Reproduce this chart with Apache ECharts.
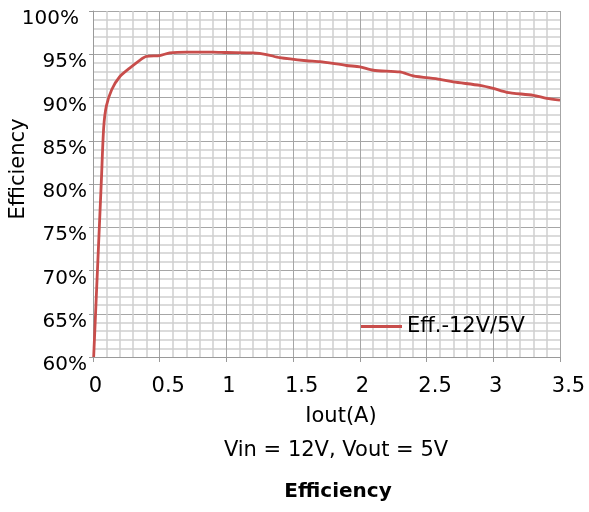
<!DOCTYPE html>
<html>
<head>
<meta charset="utf-8">
<script src="https://cdn.jsdelivr.net/npm/echarts@6/dist/echarts.min.js"></script>
<style>
  html, body { margin: 0; padding: 0; background: #fff; }
  #main { width: 589px; height: 512px; }
</style>
</head>
<body>
<div id="main"></div>
<script>
// Iout (A) and efficiency (%)
var iout = [0.005, 0.063, 0.08, 0.1, 0.14, 0.2, 0.275, 0.35, 0.4, 0.5, 0.575, 0.7, 0.9, 1.0, 1.2, 1.3, 1.4, 1.6, 1.7, 1.9, 2.0, 2.1, 2.3, 2.4, 2.6, 2.7, 2.9, 3.0, 3.1, 3.3, 3.4, 3.5];
var eff = [60, 80.5, 86.5, 89, 90.9, 92.4, 93.4, 94.3, 94.75, 94.85, 95.15, 95.25, 95.25, 95.2, 95.15, 94.97, 94.6, 94.25, 94.15, 93.7, 93.55, 93.15, 92.95, 92.5, 92.1, 91.8, 91.4, 91.05, 90.6, 90.25, 89.9, 89.7];
var seriesName = "Eff.-12V/5V";

var FONT = "DejaVu Sans";
var chartDom = document.getElementById("main");
var myChart = echarts.init(chartDom);
var option;

var points = iout.map(function (x, i) {
  return [x, eff[i]];
});

option = {
  animation: false,
  textStyle: { fontFamily: FONT, color: "#000" },
  title: [
    {
      text: "Iout(A)",
      left: 341, top: 406, textAlign: "center", padding: 0,
      textStyle: { fontFamily: FONT, fontSize: 21, fontWeight: "normal", color: "#000" },
    },
    {
      text: "Vin = 12V, Vout = 5V",
      left: 336, top: 440, textAlign: "center", padding: 0,
      textStyle: { fontFamily: FONT, fontSize: 21, fontWeight: "normal", color: "#000" },
    },
    {
      text: "Efficiency",
      left: 338, top: 482, textAlign: "center", padding: 0,
      textStyle: { fontFamily: FONT, fontSize: 20, fontWeight: "bold", color: "#000" },
    },
  ],
  graphic: [
    {
      type: "text",
      x: 19, y: 169,
      rotation: Math.PI / 2,
      style: {
        text: "Efficiency",
        font: "21px " + FONT,
        fill: "#000",
        align: "center",
        verticalAlign: "middle",
      },
    },
  ],
  legend: {
    left: 361, top: 316, padding: 0,
    itemWidth: 41, itemHeight: 3,
    icon: "rect",
    textStyle: { fontFamily: FONT, fontSize: 21, color: "#000" },
    data: [seriesName],
  },
  grid: { left: 93, top: 11, width: 467, height: 346 },
  xAxis: {
    type: "value",
    min: 0, max: 3.5, interval: 0.5,
    axisLine: { show: true, onZero: false, lineStyle: { color: "#9a9a9a", width: 1 } },
    axisTick: { show: true, length: 5, lineStyle: { color: "#9a9a9a" } },
    splitLine: { show: true, lineStyle: { color: "#a6a6a6", width: 1 } },
    minorTick: { show: false, splitNumber: 5 },
    minorSplitLine: { show: true, lineStyle: { color: "#cfcfcf", width: 1.5 } },
    axisLabel: {
      margin: 19,
      formatter: function (v) {
        var s = String(v);
        return s.length > 1 ? "{b|" + s + "}" : "{a|" + s + "}";
      },
      rich: {
        a: { fontFamily: FONT, fontSize: 21, color: "#000", padding: [0, 0, 0, 5] },
        b: { fontFamily: FONT, fontSize: 21, color: "#000", padding: [0, 0, 0, 17] },
      },
    },
  },
  yAxis: {
    type: "value",
    min: 60, max: 100, interval: 5,
    axisLine: { show: true, lineStyle: { color: "#9a9a9a", width: 1 } },
    axisTick: { show: true, length: 4, lineStyle: { color: "#9a9a9a" } },
    splitLine: { show: true, lineStyle: { color: "#a6a6a6", width: 1 } },
    minorTick: { show: false, splitNumber: 5 },
    minorSplitLine: { show: true, lineStyle: { color: "#cfcfcf", width: 1.5 } },
    axisLabel: {
      margin: 6,
      formatter: function (v) {
        return (v === 100 ? "{w|" : "{p|") + v + "%}";
      },
      rich: {
        p: { fontFamily: FONT, fontSize: 20, color: "#000", padding: [16, 0, 0, 0] },
        w: { fontFamily: FONT, fontSize: 20, color: "#000", padding: [16, 8, 0, 0] },
      },
    },
  },
  series: [
    {
      name: seriesName,
      type: "line",
      data: points,
      showSymbol: false,
      symbol: "none",
      smooth: 0.25,
      itemStyle: { color: "#c84d4b" },
      lineStyle: { color: "#c84d4b", width: 2.8 },
    },
  ],
};

option && myChart.setOption(option);
</script>
</body>
</html>
